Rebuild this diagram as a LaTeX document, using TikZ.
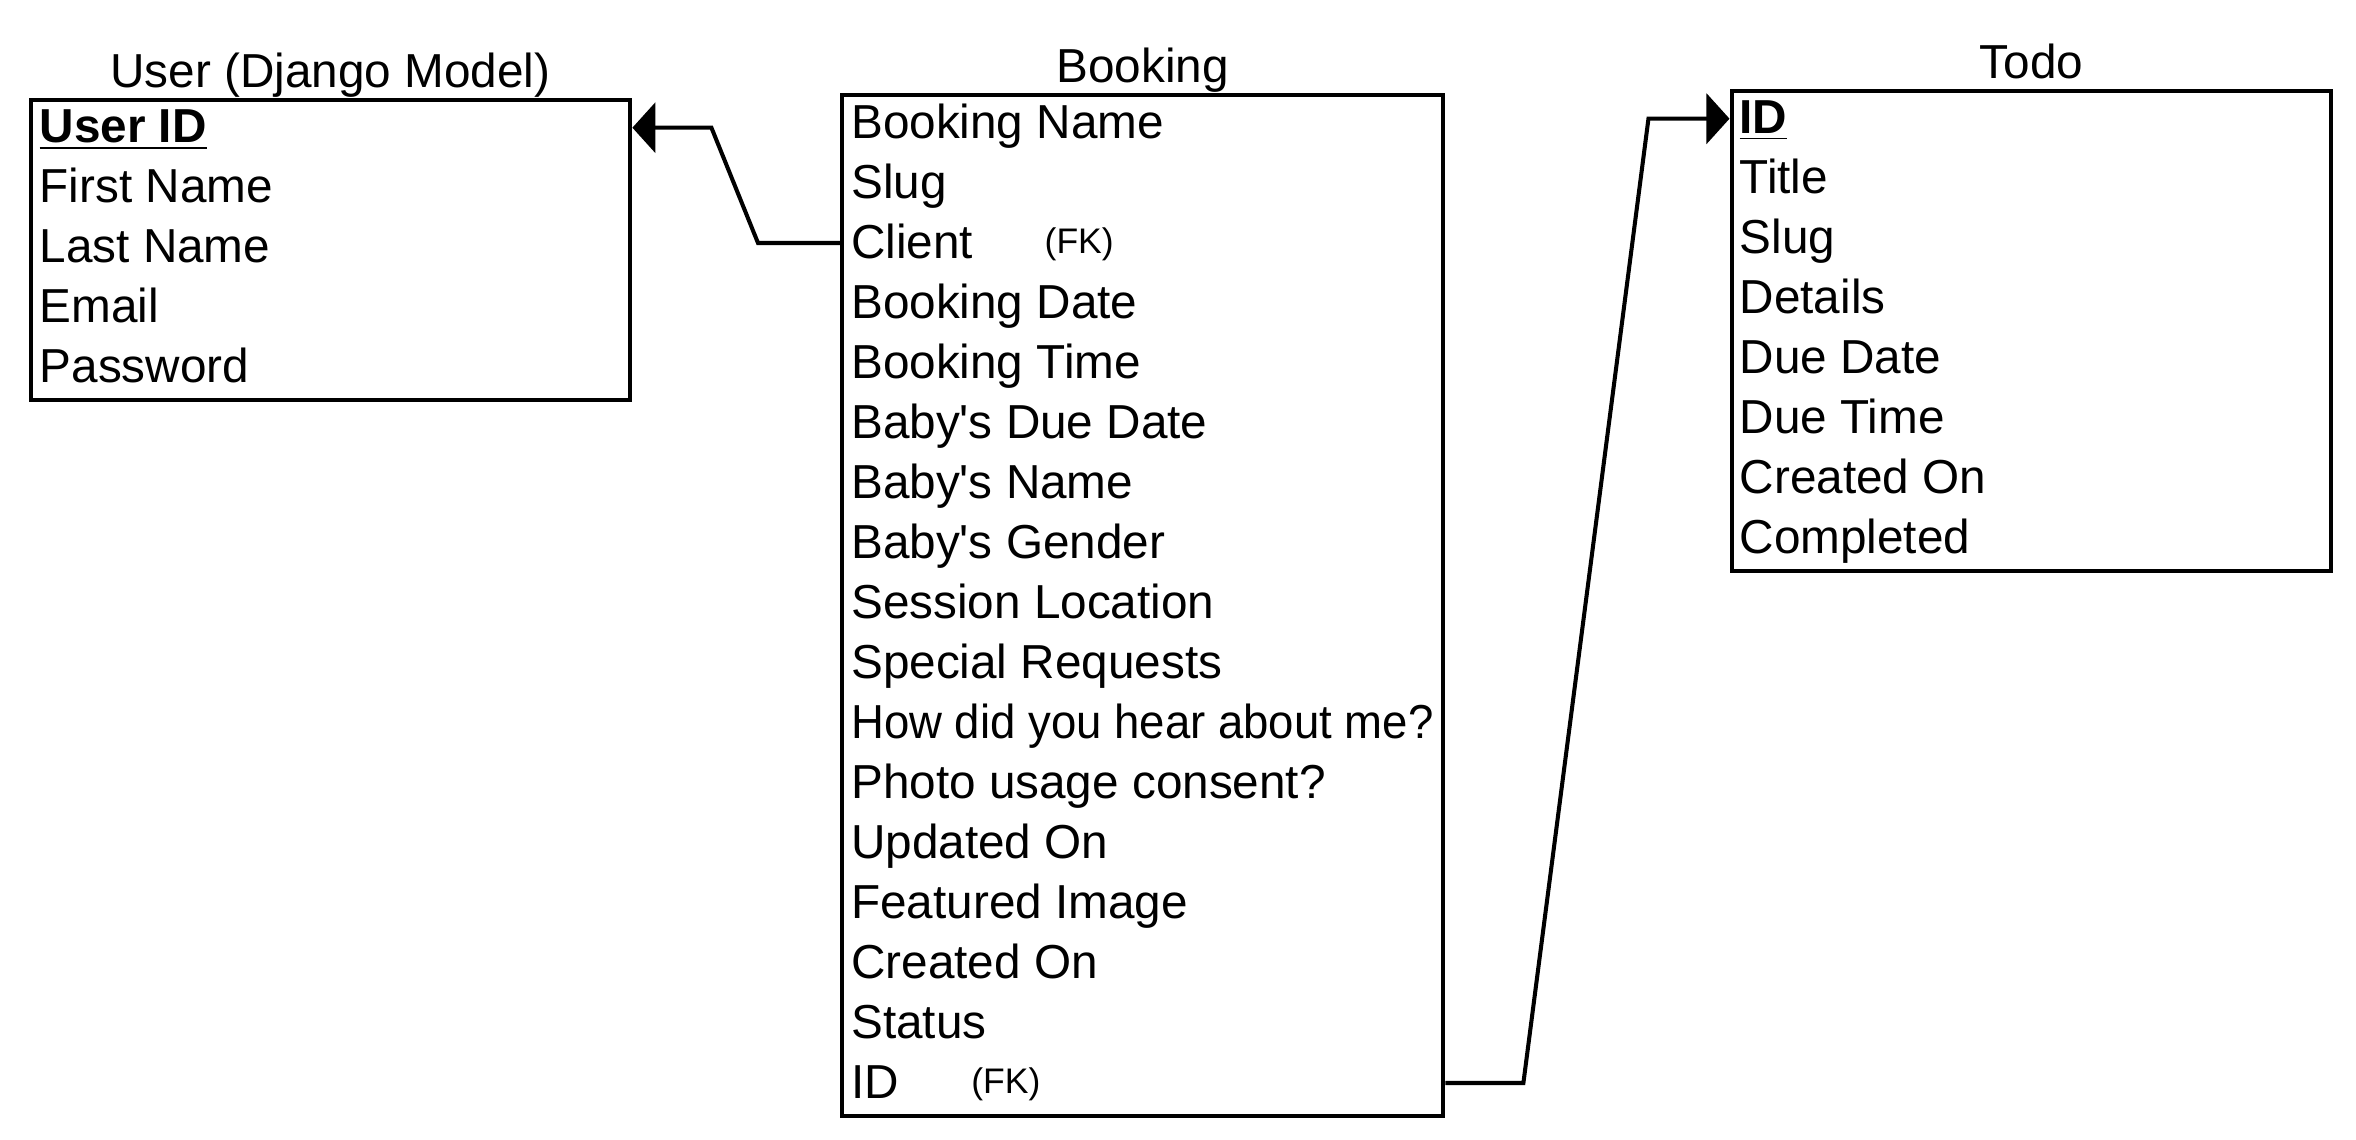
\documentclass[tikz,border=0pt]{standalone}
\usepackage{graphicx}
\usepackage{fontspec}
\setmainfont{Liberation Sans}
\usepackage{tikz}
\usetikzlibrary{arrows.meta}

\begin{document}
\begin{tikzpicture}[x=0.01cm, y=-0.01cm,
  font=\fontsize{13.56pt}{16pt}\selectfont,
  tbl/.style={draw, line width=1.15pt, inner sep=0pt, anchor=north west},
  tbltitle/.style={anchor=base, inner sep=0pt},
  field/.style={anchor=west, inner sep=0pt, text height=0.4cm, text depth=0.1cm},
  fkey/.style={anchor=west, inner sep=0pt, text height=0.3cm, text depth=0.1cm,
    font=\fontsize{10.1pt}{12pt}\selectfont},
  fk/.style={line width=1.15pt, -{Triangle[length=0.23cm, width=0.5cm]}}]
  \useasboundingbox (0,0) rectangle (2356,1140);

  \node[tbl, minimum width=5.995cm, minimum height=3cm] (user) at (28.5,97.7) {};
  \node[tbl, minimum width=6.01cm, minimum height=10.2cm] (booking) at (840,93) {};
  \node[tbl, minimum width=5.995cm, minimum height=4.8cm] (todo) at (1729.5,88.7) {};

  \node[tbltitle] (user-title) at ([yshift=0.1cm]user.north) {User (Django Model)};
  \node[tbltitle] (booking-title) at ([yshift=0.1cm]booking.north) {Booking};
  \node[tbltitle] (todo-title) at ([yshift=0.1cm]todo.north) {Todo};

  \node[field] (user-1) at (39,127.7) {\textbf{\underline{User ID}}};
  \foreach \f [count=\i from 2] in {First Name, Last Name, Email, Password}
    \node[field] (user-\i) at (39,{127.7+60*(\i-1)}) {\f};

  \foreach \f [count=\i] in {Booking Name, Slug, Client, Booking Date, Booking Time,
      Baby\textquotesingle s Due Date, Baby\textquotesingle s Name,
      Baby\textquotesingle s Gender, Session Location, Special Requests,
      \scalebox{0.955}[1]{How did you hear about me?}, Photo usage consent?,
      Updated On, Featured Image, Created On, Status, ID}
    \node[field] (booking-\i) at (850.5,{63+60*\i}) {\f};
  \node[fkey] (client-fk) at (1044,243) {(FK)};
  \node[fkey] (id-fk) at (970.7,1083) {(FK)};

  \node[field] (todo-1) at (1739,118.7) {\textbf{\underline{ID}}};
  \foreach \f [count=\i from 2] in {Title, Slug, Details, Due Date, Due Time,
      Created On, Completed}
    \node[field] (todo-\i) at (1739,{58.7+60*\i}) {\f};

  \draw[fk] (booking.west |- booking-3) -- ++(-82,0)
    -- ([xshift=0.79cm]user.east |- user-1) -- (user.east |- user-1);
  \draw[fk] (booking.east |- booking-17) -- ++(78,0)
    -- ([xshift=-0.81cm]todo.west |- todo-1) -- (todo.west |- todo-1);
\end{tikzpicture}
\end{document}
